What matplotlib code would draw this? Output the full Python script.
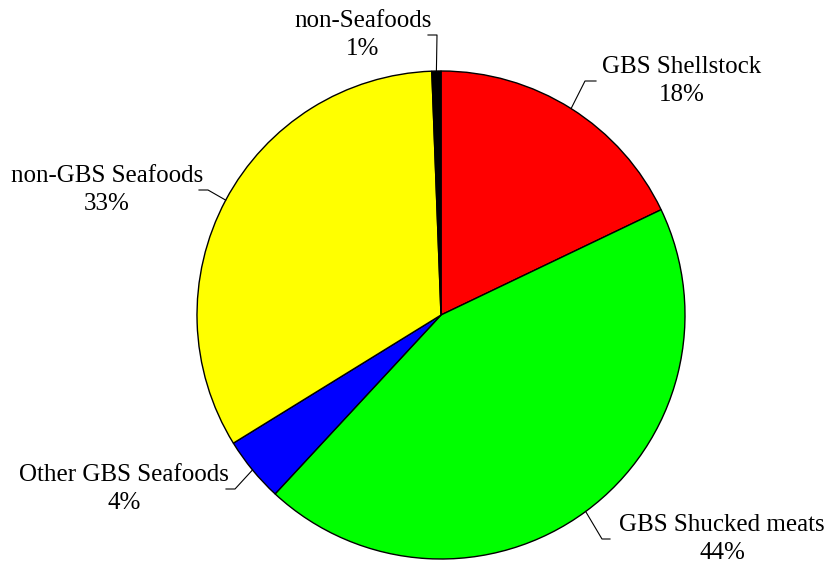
import matplotlib.pyplot as plt
import numpy as np

# slice data (clockwise from 12 o'clock)
labels = ["GBS Shellstock", "GBS Shucked meats", "Other GBS Seafoods",
          "non-GBS Seafoods", "non-Seafoods"]
values = [17.9, 44.0, 4.3, 33.2, 0.6]
colors = ["#FF0000", "#00FF00", "#0000FF", "#FFFF00", "#000000"]

# label layout in pixel coords (x, y from top): text centre, elbow x, elbow y, end x
text_pos = [(682, 81), (722, 539), (124, 489), (107, 190), (363, 35)]
elbows = [(585, 81, 596), (602, 539, 610), (235, 489, 226),
          (208, 190, 199), (437, 35, 428)]

W, H = 826, 564
cx, cy, R = 441, 315, 244


def Y(y):
    return H - y


plt.rcParams['font.family'] = ['Liberation Serif', 'DejaVu Serif']

fig = plt.figure(figsize=(W / 100, H / 100), dpi=100)
ax = fig.add_axes([0, 0, 1, 1])

wedges, _ = ax.pie(values, colors=colors, startangle=90, counterclock=False,
                   center=(cx, Y(cy)), radius=R,
                   wedgeprops=dict(edgecolor='black', linewidth=1))

total = sum(values)
for w, lab, v, (tx, ty), (ex, ey, endx) in zip(wedges, labels, values, text_pos, elbows):
    mid = np.radians((w.theta1 + w.theta2) / 2)
    px = cx + R * np.cos(mid)
    py = Y(cy) + R * np.sin(mid)
    ax.plot([px, ex, endx], [py, Y(ey), Y(ey)], color='black', lw=0.8)
    pct = round(v / total * 100)
    ax.text(tx, Y(ty), f"{lab}\n{pct}%", ha='center', va='center',
            fontsize=18, linespacing=1.3)

ax.set_xlim(0, W)
ax.set_ylim(0, H)
ax.set_aspect('equal')
ax.axis('off')

fig.savefig("out.png", dpi=100)
